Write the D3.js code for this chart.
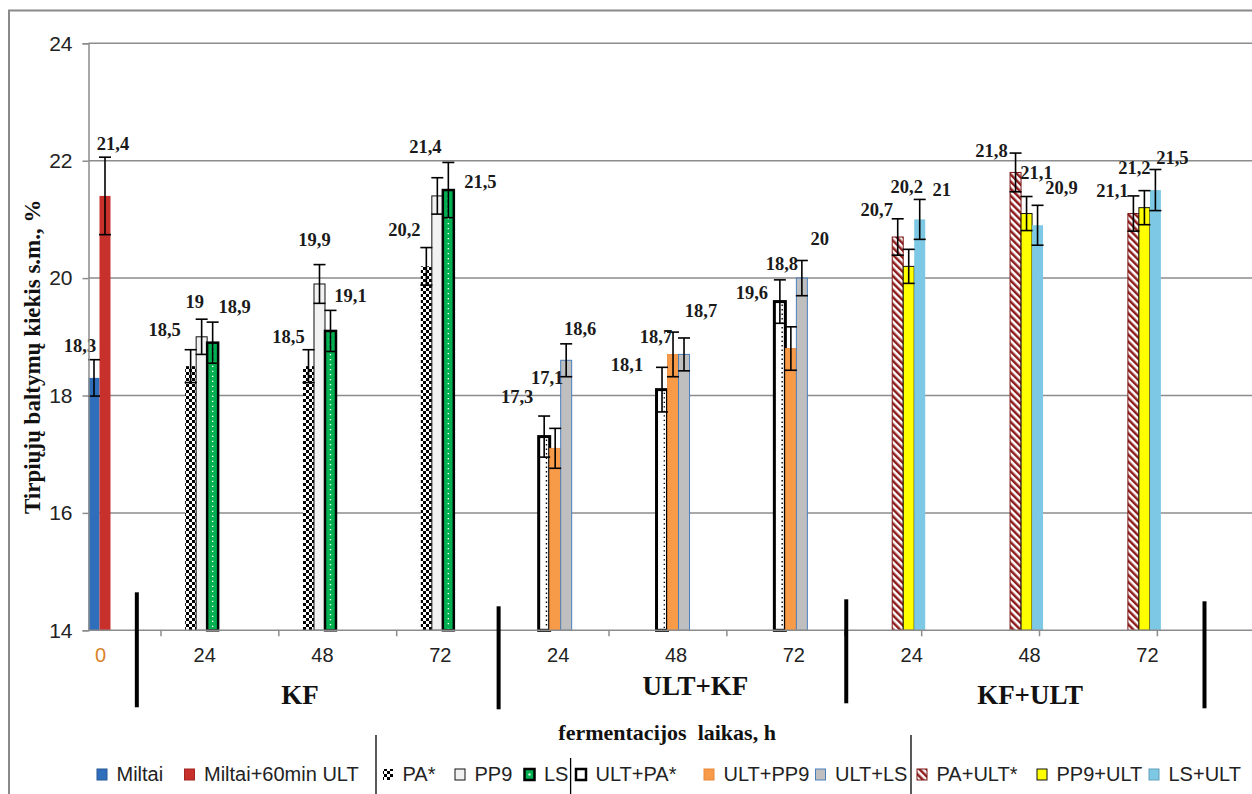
<!DOCTYPE html>
<html>
<head>
<meta charset="utf-8">
<script src="https://cdn.jsdelivr.net/npm/d3@7"></script>
<style>
  html, body { margin: 0; padding: 0; background: #fff; }
  svg { display: block; }
</style>
</head>
<body>
<svg id="chart" width="1252" height="794"></svg>
<script>
// ---- data -------------------------------------------------------------
const categories = ["0", "24", "48", "72", "24", "48", "72", "24", "48", "72"];
const blocks = ["KF", "ULT+KF", "KF+ULT"];
const yTicks = [14, 16, 18, 20, 22, 24];

const seriesNames = ["Miltai", "Miltai+60min ULT", "PA*", "PP9", "LS",
  "ULT+PA*", "ULT+PP9", "ULT+LS", "PA+ULT*", "PP9+ULT", "LS+ULT"];

// flour controls (time 0)
const controlValues = [18.3, 21.4];
const controlErrors = [0.31, 0.66];

// KF : fermentation only (24, 48, 72 h)
const kfPA  = [18.5, 18.5, 20.2];
const kfPP9 = [19.0, 19.9, 21.4];
const kfLS  = [18.9, 19.1, 21.5];
const kfPAErr  = [0.28, 0.28, 0.32];
const kfPP9Err = [0.30, 0.33, 0.31];
const kfLSErr  = [0.35, 0.35, 0.47];

// ULT+KF : ultrasound, then fermentation
const ultkfPA  = [17.3, 18.1, 19.6];
const ultkfPP9 = [17.1, 18.7, 18.8];
const ultkfLS  = [18.6, 18.7, 20.0];
const ultkfPAErr  = [0.35, 0.38, 0.37];
const ultkfPP9Err = [0.34, 0.38, 0.37];
const ultkfLSErr  = [0.28, 0.28, 0.30];

// KF+ULT : fermentation, then ultrasound
const kfultPA  = [20.7, 21.8, 21.1];
const kfultPP9 = [20.2, 21.1, 21.2];
const kfultLS  = [21.0, 20.9, 21.5];
const kfultPAErr  = [0.31, 0.33, 0.30];
const kfultPP9Err = [0.29, 0.29, 0.29];
const kfultLSErr  = [0.34, 0.34, 0.35];

// ---- layout -----------------------------------------------------------
const W = 1252, H = 794;
const axisX = 88.5;
const barW = 11;

// hand-placed value-label nudges [dx, dy] from the bar top, per bar
const controlNudge = [[-14, -32], [8, -52]];
const blockNudge = [
  [[[-26, -36], [-7, -35], [22, -36]], [[-20, -29], [-5, -44], [20, -35]], [[-22, -36], [-12, -49], [32, -8]]],
  [[[-27, -40], [-8, -70], [14, -31]], [[-35, -25], [-17, -17], [17, -43]], [[-28, -9], [-9, -85], [18, -39]]],
  [[[-21, -27], [-2, -79], [22, -29]], [[-24, -21], [10, -41], [24, -37]], [[-21, -23], [-10, -40], [17, -32]]]
];
const blockTickShift = [-0.345, 0.457, 0.11];
const separatorAt = [0.45, 3.52, 6.47, 9.51];
const separatorSpan = [[-38, 77], [-24, 79], [-31, 73], [-29, 78]];
const blockLabelPos = [[1.835, 74], [5.19, 65], [8.03, 74]];

// legend row: swatch left edges and divider positions
const legendSwatchX = [97, 184.5, 383, 455, 524.5, 576, 704, 815.5, 917, 1037, 1149];
const legendDividers = [[376, 735], [570.6, 758], [911, 735]];

const SERIF = "'Liberation Serif','Times New Roman',serif";
const SANS = "'Liberation Sans',Arial,sans-serif";

const svg = d3.select("#chart");

// scales
const x = d3.scaleLinear().domain([0, 9]).range([83.8, 1144.4]);
const y = d3.scaleLinear().domain([14, 24]).range([630.3, 43.3]);
const inner = d3.scaleBand().domain([0, 1, 2]).range([-1.5 * barW, 1.5 * barW]);
const ctrl = d3.scaleBand().domain([0, 1]).range([axisX, axisX + 2 * barW]);

// ---- fills ------------------------------------------------------------
const defs = svg.append("defs");
const chk = defs.append("pattern").attr("id", "checker")
  .attr("width", 6).attr("height", 6).attr("patternUnits", "userSpaceOnUse");
chk.append("rect").attr("width", 6).attr("height", 6).attr("fill", "#fff");
chk.append("rect").attr("width", 3).attr("height", 3).attr("fill", "#000");
chk.append("rect").attr("x", 3).attr("y", 3).attr("width", 3).attr("height", 3).attr("fill", "#000");

const str = defs.append("pattern").attr("id", "stripes")
  .attr("width", 5).attr("height", 5).attr("patternUnits", "userSpaceOnUse")
  .attr("patternTransform", "rotate(-45)");
str.append("rect").attr("width", 5).attr("height", 5).attr("fill", "#fff");
str.append("rect").attr("width", 2.5).attr("height", 5).attr("fill", "#8e1c1c");

// per-series drawing styles
const styles = {
  "Miltai":           { fill: "#2f6ebb", stroke: "none", sw: 0 },
  "Miltai+60min ULT": { fill: "#c8302b", stroke: "none", sw: 0 },
  "PA*":              { fill: "url(#checker)", stroke: "none", sw: 0 },
  "PP9":              { fill: "#f2f2f2", stroke: "#111", sw: 1 },
  "LS":               { fill: "#00b050", stroke: "#000", sw: 2.5, dots: "#fff" },
  "ULT+PA*":          { fill: "#fff", stroke: "#000", sw: 3, edgeDots: "#000" },
  "ULT+PP9":          { fill: "#f79b48", stroke: "#e8873a", sw: 0.8 },
  "ULT+LS":           { fill: "#bfbfbf", stroke: "#4a7ebb", sw: 1 },
  "PA+ULT*":          { fill: "url(#stripes)", stroke: "#7a1515", sw: 1 },
  "PP9+ULT":          { fill: "#ffff00", stroke: "#111", sw: 1 },
  "LS+ULT":           { fill: "#7dc8e4", stroke: "none", sw: 0 }
};

// ---- frame + grid -----------------------------------------------------
svg.append("path").attr("d", `M9,${H} V10.5 H${W}`)
  .attr("fill", "none").attr("stroke", "#8a8a8a").attr("stroke-width", 2);

svg.append("g").selectAll("line").data(yTicks.slice(1)).join("line")
  .attr("x1", axisX).attr("x2", W)
  .attr("y1", d => y(d)).attr("y2", d => y(d))
  .attr("stroke", "#8c8c8c").attr("stroke-width", 1.5);

// ---- bars ---------------------------------------------------------------
const bars = [];
controlValues.forEach((v, i) => bars.push({
  series: seriesNames[i], v, e: controlErrors[i],
  x0: ctrl(i), nudge: controlNudge[i]
}));
const blockData = [
  [kfPA, kfPP9, kfLS, kfPAErr, kfPP9Err, kfLSErr],
  [ultkfPA, ultkfPP9, ultkfLS, ultkfPAErr, ultkfPP9Err, ultkfLSErr],
  [kfultPA, kfultPP9, kfultLS, kfultPAErr, kfultPP9Err, kfultLSErr]
];
blockData.forEach((set, b) => {
  for (let t = 0; t < 3; t++) {
    const k = 1 + 3 * b + t;
    for (let s = 0; s < 3; s++) {
      bars.push({
        series: seriesNames[2 + 3 * b + s], v: set[s][t], e: set[3 + s][t],
        x0: x(k) + inner(s), nudge: blockNudge[b][t][s]
      });
    }
  }
});

const gBars = svg.append("g");
bars.forEach(d => {
  const st = styles[d.series];
  const top = y(d.v), bot = y(14);
  gBars.append("rect")
    .attr("x", d.x0).attr("y", top)
    .attr("width", barW).attr("height", bot - top)
    .attr("fill", st.fill)
    .attr("stroke", st.stroke).attr("stroke-width", st.sw);
  if (st.dots) {
    gBars.append("line")
      .attr("x1", d.x0 + barW / 2).attr("x2", d.x0 + barW / 2)
      .attr("y1", top + 3).attr("y2", bot - 2)
      .attr("stroke", st.dots).attr("stroke-width", 1.4)
      .attr("stroke-dasharray", "1.3,3.7");
  }
  if (st.edgeDots) {
    gBars.append("line")
      .attr("x1", d.x0 + barW - 3.2).attr("x2", d.x0 + barW - 3.2)
      .attr("y1", top + 3).attr("y2", bot - 2)
      .attr("stroke", st.edgeDots).attr("stroke-width", 1.4)
      .attr("stroke-dasharray", "1.3,3.2");
  }
});

// ---- error bars -----------------------------------------------------------
const gErr = svg.append("g").attr("stroke", "#000").attr("stroke-width", 1.6);
bars.forEach(d => {
  const cx = d.x0 + barW / 2;
  const hi = y(d.v + d.e), lo = y(d.v - d.e);
  gErr.append("line").attr("x1", cx).attr("x2", cx).attr("y1", hi).attr("y2", lo);
  gErr.append("line").attr("x1", cx - 6).attr("x2", cx + 6).attr("y1", hi).attr("y2", hi);
  gErr.append("line").attr("x1", cx - 6).attr("x2", cx + 6).attr("y1", lo).attr("y2", lo);
});

// ---- value labels --------------------------------------------------------
const fmt = v => String(v).replace(".", ",");
svg.append("g").selectAll("text").data(bars).join("text")
  .attr("x", d => d.x0 + barW / 2 + d.nudge[0])
  .attr("y", d => y(d.v) + d.nudge[1])
  .attr("text-anchor", "middle").attr("dominant-baseline", "central")
  .attr("font-family", SERIF).attr("font-weight", "bold").attr("font-size", 18.5)
  .attr("fill", "#1a1a1a")
  .text(d => fmt(d.v));

// ---- axes ---------------------------------------------------------------
const yAxis = svg.append("g").attr("transform", `translate(${axisX},0)`)
  .call(d3.axisLeft(y).tickValues(yTicks).tickSize(6).tickPadding(10).tickFormat(d3.format("d")));
yAxis.select(".domain").attr("stroke", "#8c8c8c").attr("stroke-width", 1.5);
yAxis.selectAll(".tick line").attr("stroke", "#8c8c8c").attr("stroke-width", 1.5);
yAxis.selectAll(".tick text").attr("font-family", SANS).attr("font-size", 21).attr("fill", "#222");

// category axis
svg.append("line").attr("x1", axisX).attr("x2", W).attr("y1", y(14)).attr("y2", y(14))
  .attr("stroke", "#8c8c8c").attr("stroke-width", 1.5);
const catTicks = [];
blocks.forEach((b, bi) => {
  for (let t = 0; t < 3; t++) catTicks.push(1 + 3 * bi + t + blockTickShift[bi]);
});
svg.append("g").selectAll("line").data(catTicks).join("line")
  .attr("x1", d => x(d)).attr("x2", d => x(d))
  .attr("y1", y(14)).attr("y2", y(14) + 6)
  .attr("stroke", "#8c8c8c").attr("stroke-width", 1.5);

svg.append("g").selectAll("text").data(categories).join("text")
  .attr("x", (d, i) => i === 0 ? ctrl(0) + barW + 1 : x(i) + 3)
  .attr("y", y(14) + 25)
  .attr("text-anchor", "middle").attr("dominant-baseline", "central")
  .attr("font-family", SANS).attr("font-size", 20)
  .attr("fill", (d, i) => i === 0 ? "#d9822b" : "#222")
  .text(d => d);

// block separators
svg.append("g").selectAll("line").data(separatorAt).join("line")
  .attr("x1", d => x(d)).attr("x2", d => x(d))
  .attr("y1", (d, i) => y(14) + separatorSpan[i][0])
  .attr("y2", (d, i) => y(14) + separatorSpan[i][1])
  .attr("stroke", "#000").attr("stroke-width", 4);

// block titles
svg.append("g").selectAll("text").data(blocks).join("text")
  .attr("x", (d, i) => x(blockLabelPos[i][0]))
  .attr("y", (d, i) => y(14) + blockLabelPos[i][1])
  .attr("text-anchor", "middle")
  .attr("font-family", SERIF).attr("font-weight", "bold").attr("font-size", 27)
  .attr("fill", "#111")
  .text(d => d);

// axis titles
svg.append("text")
  .attr("x", x(4.95)).attr("y", y(14) + 110)
  .attr("text-anchor", "middle")
  .attr("font-family", SERIF).attr("font-weight", "bold").attr("font-size", 22)
  .attr("fill", "#111").attr("xml:space", "preserve")
  .text("fermentacijos  laikas, h");

svg.append("text")
  .attr("transform", `translate(40,${(y(14) + y(24)) / 2 + 20}) rotate(-90)`)
  .attr("text-anchor", "middle")
  .attr("font-family", SERIF).attr("font-weight", "bold").attr("font-size", 23)
  .attr("fill", "#111")
  .text("Tirpiųjų baltymų kiekis s.m., %");

// ---- legend ---------------------------------------------------------------
const legend = svg.append("g");
const legendY = 774.5;
seriesNames.forEach((name, i) => {
  const st = styles[name];
  const lx = legendSwatchX[i];
  const edge = st.stroke !== "none" ? st.stroke
    : (d3.color(st.fill) ? d3.color(st.fill).darker(0.6) : "none");
  legend.append("rect")
    .attr("x", lx).attr("y", legendY - 5.5).attr("width", 10).attr("height", 11)
    .attr("fill", st.fill)
    .attr("stroke", edge)
    .attr("stroke-width", Math.max(1, Math.min(st.sw, 2.5)));
  if (st.dots) {
    legend.append("rect").attr("x", lx + 4).attr("y", legendY - 1)
      .attr("width", 2).attr("height", 2).attr("fill", "#fff");
  }
  legend.append("text")
    .attr("x", lx + 19.5).attr("y", legendY + 6)
    .attr("font-family", SANS).attr("font-size", 20).attr("fill", "#222")
    .text(name);
});
legend.selectAll("line.divider").data(legendDividers).join("line")
  .attr("class", "divider")
  .attr("x1", d => d[0]).attr("x2", d => d[0])
  .attr("y1", d => d[1]).attr("y2", H)
  .attr("stroke", "#000").attr("stroke-width", 1.3);
</script>
</body>
</html>
